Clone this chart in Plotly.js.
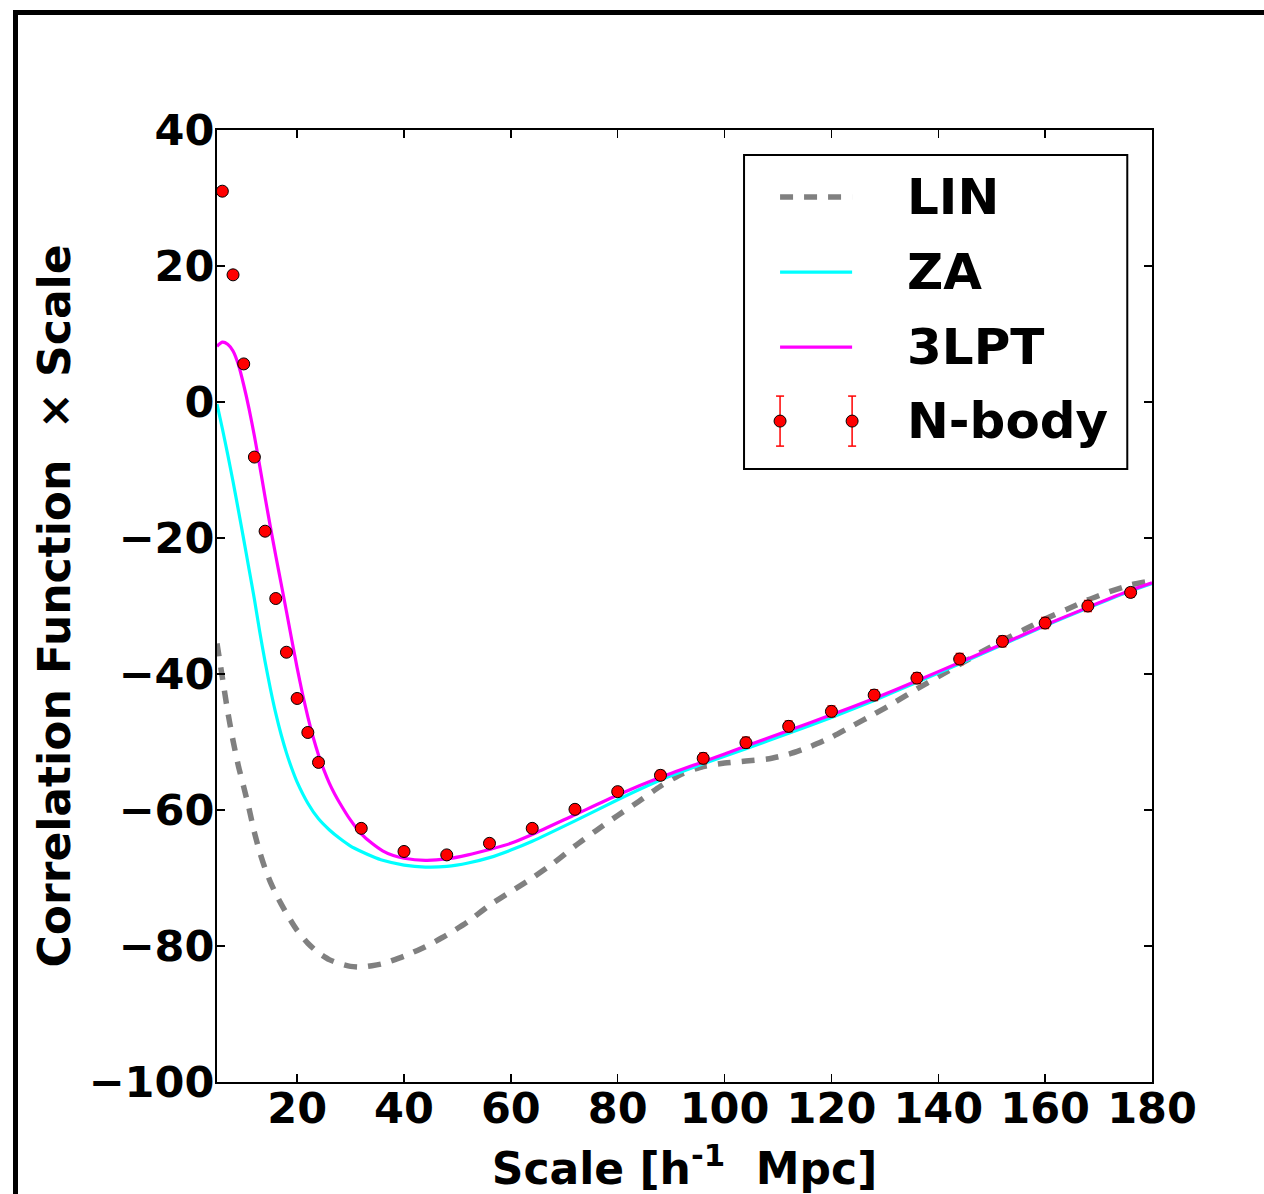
<!DOCTYPE html>
<html>
<head>
<meta charset="utf-8">
<script src="https://cdn.plot.ly/plotly-3.0.1.min.js"></script>
<style>
  html, body { margin: 0; padding: 0; background: #fff; }
  #wrap { position: relative; width: 1264px; height: 1194px; overflow: hidden; }
  #chart { position: absolute; left: 0; top: 0; width: 1264px; height: 1194px; }
  #frame { position: absolute; left: 13px; top: 10px; width: 1400px; height: 1400px;
           border-top: 5px solid #000; border-left: 5px solid #000; pointer-events: none; }
</style>
</head>
<body>
<div id="wrap">
  <div id="chart"></div>
  <div id="frame"></div>
</div>
<script>
// ---- data ----
const linX = [5,6,7,8,9,10,11,12,13,14,15,16,17,18,19,20,22,24,26,28,30,32,34,36,40,44,48,52,56,60,64,68,72,76,80,84,88,92,96,100,104,108,112,116,120,124,128,132,136,140,144,148,152,156,160,164,168,172,176,180];
const linY = [-35.5,-40.5,-45.5,-49.8,-53.5,-56.6,-59.8,-63.3,-66.2,-68.6,-70.6,-72.3,-73.8,-75.2,-76.5,-77.7,-79.6,-81.0,-82.0,-82.6,-83.0,-83.1,-82.9,-82.6,-81.5,-80.1,-78.4,-76.4,-74.0,-72.0,-70.0,-67.8,-65.3,-63.0,-60.8,-58.7,-56.5,-54.7,-53.6,-53.1,-52.8,-52.5,-51.8,-50.7,-49.3,-47.6,-45.9,-44.1,-42.2,-40.4,-38.6,-36.8,-35.1,-33.5,-31.9,-30.5,-29.1,-27.9,-26.9,-26.3];

const zaX = [5,6,7,8,9,10,11,12,13,14,15,16,17,18,19,20,22,24,26,28,30,32,34,36,40,44,48,52,56,60,64,72,80,88,96,104,112,120,128,136,144,152,160,168,176,180];
const zaY = [-0.3,-3.9,-7.7,-11.7,-15.9,-20.2,-24.6,-29.0,-33.8,-38.2,-42.2,-45.8,-48.9,-51.6,-53.9,-55.9,-59.0,-61.3,-62.9,-64.2,-65.3,-66.1,-66.8,-67.4,-68.1,-68.4,-68.3,-67.8,-67.0,-65.9,-64.6,-61.6,-58.5,-55.6,-53.2,-51.0,-48.7,-46.4,-43.9,-41.2,-38.5,-35.7,-32.9,-30.3,-27.8,-26.7];

const lptX = [5,6,7,8,9,10,11,12,13,14,15,16,17,18,19,20,21,22,23,24,25,26,27,28,30,32,34,36,38,40,44,48,52,56,60,64,72,80,88,96,104,112,120,128,136,144,152,160,168,176,180];
const lptY = [8.2,8.8,8.5,7.5,5.5,2.5,-1.0,-5.0,-9.4,-14.0,-18.4,-22.6,-26.7,-30.8,-35.0,-39.1,-42.9,-46.3,-49.3,-51.9,-54.1,-56.0,-57.6,-59.0,-61.5,-63.5,-64.9,-66.0,-66.7,-67.1,-67.4,-67.2,-66.6,-65.8,-64.9,-63.6,-60.7,-57.8,-55.2,-52.9,-50.6,-48.3,-46.0,-43.6,-41.0,-38.3,-35.6,-32.8,-30.2,-27.7,-26.6];

const nbX = [6,8,10,12,14,16,18,20,22,24,32,40,48,56,64,72,80,88,96,104,112,120,128,136,144,152,160,168,176];
const nbY = [31.0,18.7,5.6,-8.1,-19.0,-28.9,-36.8,-43.6,-48.6,-53.0,-62.7,-66.1,-66.6,-64.9,-62.7,-59.9,-57.3,-54.9,-52.4,-50.1,-47.7,-45.5,-43.1,-40.6,-37.8,-35.2,-32.5,-30.0,-28.0];
const nbErr = [0.3,0.3,0.3,0.3,0.3,0.3,0.3,0.3,0.3,0.3,0.4,0.4,0.4,0.5,0.5,0.6,0.6,0.7,0.8,0.8,0.8,0.8,0.8,0.8,0.8,0.8,0.8,0.8,0.7];

const xTicks = [20,40,60,80,100,120,140,160,180];
const yTicks = [-100,-80,-60,-40,-20,0,20,40];
const legendNames = ['LIN','ZA','3LPT','N-body'];

// ---- plot ----
const FONT = 'DejaVu Sans, Verdana, sans-serif';
const traces = [
  {x: linX, y: linY, mode: 'lines', name: legendNames[0], line: {color: '#808080', width: 5.5, dash: '13px,11px', shape: 'spline', smoothing: 0.6}},
  {x: zaX, y: zaY, mode: 'lines', name: legendNames[1], line: {color: '#00ffff', width: 3.2, shape: 'spline', smoothing: 0.6}},
  {x: lptX, y: lptY, mode: 'lines', name: legendNames[2], line: {color: '#ff00ff', width: 3.2, shape: 'spline', smoothing: 0.6}},
  {x: nbX, y: nbY, mode: 'markers', name: legendNames[3],
   error_y: {type: 'data', array: nbErr, visible: true, color: '#ff0000', thickness: 1.5, width: 4},
   marker: {color: '#ff0000', size: 12, line: {color: '#000', width: 1}}}
];

// legend drawn in paper coordinates
const X = px => (px - 217.3) / 934.4;
const Y = py => (1081.7 - py) / 951.7;
const rowY = [197, 272, 347, 421];
const shapes = [
  {type: 'rect', xref: 'paper', yref: 'paper', x0: X(744), x1: X(1127), y0: Y(469), y1: Y(155), line: {color: '#000', width: 2}, fillcolor: '#fff', layer: 'above'},
  {type: 'line', xref: 'paper', yref: 'paper', x0: X(780), x1: X(852), y0: Y(rowY[0]), y1: Y(rowY[0]), line: {color: '#808080', width: 5.5, dash: '13px,11px'}},
  {type: 'line', xref: 'paper', yref: 'paper', x0: X(780), x1: X(852), y0: Y(rowY[1]), y1: Y(rowY[1]), line: {color: '#00ffff', width: 3.2}},
  {type: 'line', xref: 'paper', yref: 'paper', x0: X(780), x1: X(852), y0: Y(rowY[2]), y1: Y(rowY[2]), line: {color: '#ff00ff', width: 3.2}}
];
[780, 852].forEach(px => {
  shapes.push({type: 'line', xref: 'paper', yref: 'paper', x0: X(px), x1: X(px), y0: Y(396), y1: Y(446), line: {color: '#ff0000', width: 1.5}});
  shapes.push({type: 'line', xref: 'paper', yref: 'paper', x0: X(px-4), x1: X(px+4), y0: Y(396), y1: Y(396), line: {color: '#ff0000', width: 1.5}});
  shapes.push({type: 'line', xref: 'paper', yref: 'paper', x0: X(px-4), x1: X(px+4), y0: Y(446), y1: Y(446), line: {color: '#ff0000', width: 1.5}});
  shapes.push({type: 'circle', xref: 'paper', yref: 'paper', xsizemode: 'pixel', ysizemode: 'pixel',
               xanchor: X(px), yanchor: Y(rowY[3]), x0: -6, x1: 6, y0: -6, y1: 6,
               fillcolor: '#ff0000', line: {color: '#000', width: 1}});
});
const annotations = legendNames.map((t, i) => ({
  text: '<b>' + t + '</b>', xref: 'paper', yref: 'paper', x: X(905), y: Y(rowY[i]),
  xanchor: 'left', yanchor: 'middle', showarrow: false, font: {family: FONT, size: 50, color: '#000'}
}));

const layout = {
  width: 1264, height: 1194,
  margin: {l: 217.3, r: 112.3, t: 130, b: 112.3},
  paper_bgcolor: '#fff', plot_bgcolor: '#fff',
  showlegend: false,
  font: {family: FONT, color: '#000'},
  xaxis: {
    range: [5, 180], tickvals: xTicks, ticktext: xTicks.map(String),
    ticks: 'inside', ticklen: 8, tickwidth: 1.5, tickcolor: '#000',
    showline: true, linewidth: 2, linecolor: '#000', mirror: 'ticks',
    showgrid: false, zeroline: false, ticklabelstandoff: -13,
    tickfont: {family: FONT, size: 43, weight: 'bold', color: '#000'},
    title: {text: '<b>Scale [h<sup>-1</sup>\u00a0 Mpc]</b>', font: {family: FONT, size: 44, color: '#000'}, standoff: 22}
  },
  yaxis: {
    range: [-100, 40], tickvals: yTicks, ticktext: yTicks.map(v => v < 0 ? '\u2212' + Math.abs(v) : String(v)),
    ticks: 'inside', ticklen: 8, tickwidth: 1.5, tickcolor: '#000',
    showline: true, linewidth: 2, linecolor: '#000', mirror: 'ticks',
    showgrid: false, zeroline: false, ticklabelstandoff: -8,
    tickfont: {family: FONT, size: 43, weight: 'bold', color: '#000'},
    title: {text: '<b>Correlation Function\u00a0 \u00d7 Scale</b>', font: {family: FONT, size: 44, color: '#000'}, standoff: 4}
  },
  shapes: shapes,
  annotations: annotations
};

Plotly.newPlot('chart', traces, layout, {displayModeBar: false, staticPlot: true});
</script>
</body>
</html>
